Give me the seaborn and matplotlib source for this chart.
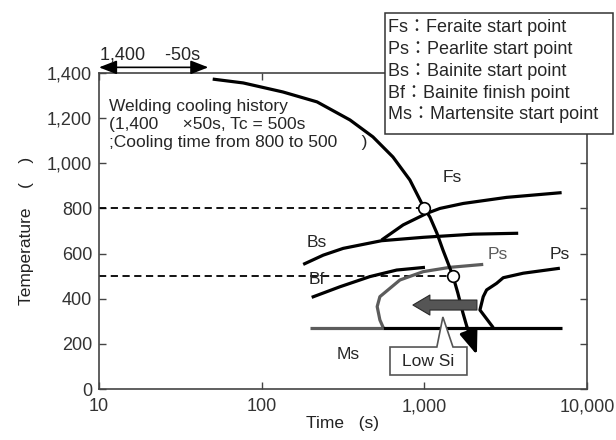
import matplotlib
matplotlib.use("Agg")
import matplotlib.pyplot as plt
import seaborn as sns
import pandas as pd
from matplotlib.patches import Rectangle, Polygon
from matplotlib.ticker import FixedLocator, FuncFormatter, NullLocator

# ---- data ----
cool_t = [50, 77, 135, 219, 349, 483, 641, 815, 1000, 1082, 1194, 1301, 1396, 1500, 1607, 1727, 1828]
cool_T = [1373, 1356, 1316, 1272, 1192, 1117, 1028, 926, 800, 762, 691, 616, 559, 500, 425, 337, 275]
cool_end = (2105, 151)

fs_t = [546, 741, 1033, 1247, 1734, 3205, 6982]
fs_T = [660, 727, 778, 800, 822, 849, 870]

bs_t = [180, 239, 317, 546, 985, 1998, 3776]
bs_T = [552, 593, 623, 657, 672, 686, 690]

bf_t = [203, 303, 463, 676, 1009]
bf_T = [406, 453, 498, 527, 539]

ps_low_t = [2302, 1436, 985, 708, 533, 513, 533, 559]
ps_low_T = [552, 539, 520, 483, 409, 365, 306, 272]

ps_t = [6812, 4055, 3055, 2780, 2415, 2302, 2197, 2652]
ps_T = [535, 513, 493, 468, 439, 409, 350, 272]

ms_low_t = [198, 559]
ms_low_T = [272, 272]
ms_t = [559, 7016]
ms_T = [272, 272]

points_t = [1000, 1500]
points_T = [800, 500]

legend_lines = ["Fs：Feraite start point",
                "Ps：Pearlite start point",
                "Bs：Bainite start point",
                "Bf：Bainite finish point",
                "Ms：Martensite start point"]

xticks = [10, 100, 1000, 10000]
yticks = [0, 200, 400, 600, 800, 1000, 1200, 1400]

# ---- style ----
sns.set_theme(style="ticks")
plt.rcParams['font.family'] = ['Liberation Sans', 'Noto Sans CJK JP', 'DejaVu Sans']
FS = 12.5
SPINE = '#444444'
GRAY = '#5c5c5c'

fig = plt.figure(figsize=(6.16, 4.40), dpi=100)
ax = fig.add_axes([99/616, 1-389/440, 488/616, 316/440])
ax.set_xscale('log')
ax.set_xlim(10, 10000)
ax.set_ylim(0, 1400)

def curve(t, T, color='black', lw=2.3):
    df = pd.DataFrame({'t': t, 'T': T})
    sns.lineplot(data=df, x='t', y='T', sort=False, estimator=None,
                 color=color, lw=lw, ax=ax, solid_capstyle='butt',
                 solid_joinstyle='round')

# dashed guide lines
ax.plot([10, points_t[0]], [points_T[0]]*2, ls=(0, (4, 2.5)), color='black', lw=1.3, zorder=2)
ax.plot([10, points_t[1]], [points_T[1]]*2, ls=(0, (4, 2.5)), color='black', lw=1.3, zorder=2)

curve(fs_t, fs_T)
curve(bs_t, bs_T)
curve(bf_t, bf_T)
curve(ps_low_t, ps_low_T, color=GRAY)
curve(ms_low_t, ms_low_T, color=GRAY)
curve(ps_t, ps_T)
curve(ms_t, ms_T)
curve(cool_t, cool_T)

# arrow head of cooling curve
ax.annotate('', xy=cool_end, xytext=(cool_t[-1], cool_T[-1]),
            arrowprops=dict(arrowstyle='-|>,head_length=1.45,head_width=0.55',
                            mutation_scale=10, color='black', lw=2.3,
                            shrinkA=0, shrinkB=0), zorder=5)

# intersection points
sns.scatterplot(x=points_t, y=points_T, s=70, color='white', edgecolor='black',
                linewidth=1.2, ax=ax, zorder=6)

# low-Si shift arrow
ax.annotate('', xy=(851, 372), xytext=(2105, 372),
            arrowprops=dict(arrowstyle='simple,head_length=1.22,head_width=1.44,tail_width=0.72',
                            fc='#555555', ec='#2a2a2a', lw=0.8, mutation_scale=10,
                            shrinkA=0, shrinkB=0), zorder=4)

# callout "Low Si"
callout = Polygon([(615, 186), (1194, 186), (1300, 319), (1500, 186), (1828, 186),
                   (1828, 62), (615, 62)], closed=True, fc='white', ec='#555555',
                  lw=1.2, zorder=7)
ax.add_patch(callout)
ax.text(1060, 122, 'Low Si', ha='center', va='center', fontsize=FS, zorder=8)

# curve labels
ax.text(1479, 935, 'Fs', ha='center', va='center', fontsize=FS)
ax.text(219, 651, 'Bs', ha='center', va='center', fontsize=FS)
ax.text(219, 487, 'Bf', ha='center', va='center', fontsize=FS, zorder=8)
ax.text(2831, 594, 'Ps', ha='center', va='center', fontsize=FS, color=GRAY)
ax.text(6808, 594, 'Ps', ha='center', va='center', fontsize=FS)
ax.text(339, 151, 'Ms', ha='center', va='center', fontsize=FS)

# cooling history text
ax.text(11.6, 1283, 'Welding cooling history\n(1,400     ×50s, Tc = 500s\n;Cooling time from 800 to 500     )',
        ha='left', va='top', fontsize=FS, linespacing=1.25)

# top double arrow
ax.annotate('', xy=(10, 1425), xytext=(47, 1425), annotation_clip=False,
            arrowprops=dict(arrowstyle='<|-|>,head_length=0.9,head_width=0.35',
                            color='black', lw=1.2, shrinkA=0, shrinkB=0))
ax.text(10.2, 1480, '1,400    -50s', ha='left', va='center', fontsize=13, clip_on=False)

# axes styling
for s in ax.spines.values():
    s.set_color(SPINE)
    s.set_linewidth(1.2)
ax.xaxis.set_major_locator(FixedLocator(xticks))
ax.xaxis.set_minor_locator(NullLocator())
ax.xaxis.set_major_formatter(FuncFormatter(lambda v, p: f'{int(v):,}'))
ax.set_yticks(yticks)
ax.yaxis.set_major_formatter(FuncFormatter(lambda v, p: f'{int(v):,}'))
ax.tick_params(axis='both', which='major', direction='in', length=5, width=1,
               color=SPINE, labelsize=13, labelcolor='#333333',
               top=True, right=True)
ax.tick_params(axis='x', pad=6.5)
ax.tick_params(axis='y', pad=5)
ax.set_xlabel('Time   (s)', fontsize=FS, labelpad=1, color='#222222')
ax.set_ylabel('Temperature    (    )', fontsize=FS, labelpad=9, color='#222222')

# legend box (figure coordinates)
fig.patches.append(Rectangle((385/616, 1-134/440), 228/616, 121/440,
                             transform=fig.transFigure, fc='white', ec='#333333',
                             lw=1.1, zorder=10))
for i, line in enumerate(legend_lines):
    fig.text(388/616, 1-(28+21.7*i)/440, line, ha='left', va='center',
             fontsize=13, zorder=11)

fig.savefig('out.png', dpi=100)
